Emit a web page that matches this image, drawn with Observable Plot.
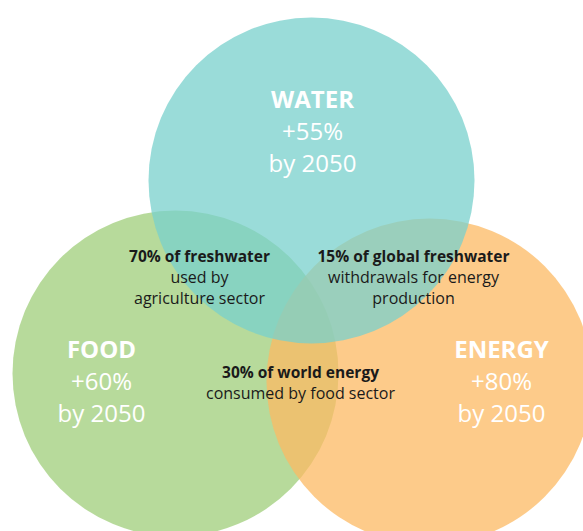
<!DOCTYPE html>
<html>
<head>
<meta charset="utf-8">
<script src="https://cdn.jsdelivr.net/npm/d3@7"></script>
<script src="https://cdn.jsdelivr.net/npm/@observablehq/plot@0.6"></script>
<style>
  html, body { margin: 0; padding: 0; background: #fff; }
  #chart svg { display: block; }
</style>
</head>
<body>
<div id="chart"></div>
<script>
// Categories and their projected demand growth by 2050
const categories = ["FOOD", "ENERGY", "WATER"];
const growth = ["+60%", "+80%", "+55%"];
const yearLabel = "by 2050";

// Overlap facts
const overlapHeads = ["70% of freshwater", "15% of global freshwater", "30% of world energy"];
const overlapBodies = [
  ["used by", "agriculture sector"],
  ["withdrawals for energy", "production"],
  ["consumed by food sector"]
];

// Layout (pixel space)
const W = 583, H = 531;
const centers = {FOOD: [175, 373], ENERGY: [429, 381], WATER: [311, 180]};
const radius = 163;
const colors = {FOOD: "#9fce7a", ENERGY: "#fcba63", WATER: "#78d0cc"};
const labelPos = {FOOD: [101, 357], ENERGY: [501, 357], WATER: [312, 107]};
const overlapPos = [[199, 261], [413, 261], [300, 377]];

const circles = categories.map(c => ({name: c, x: centers[c][0], y: centers[c][1], r: radius}));

const bigText = [];
categories.forEach((c, i) => {
  const [x, y] = labelPos[c];
  bigText.push({x, y, t: c, w: "bold"});
  bigText.push({x, y: y + 32, t: growth[i], w: "normal"});
  bigText.push({x, y: y + 64, t: yearLabel, w: "normal"});
});

const smallText = [];
overlapHeads.forEach((h, i) => {
  const [x, y] = overlapPos[i];
  smallText.push({x, y, t: h, w: "bold"});
  overlapBodies[i].forEach((b, j) => smallText.push({x, y: y + 21 * (j + 1), t: b, w: "normal"}));
});

const chart = Plot.plot({
  width: W,
  height: H,
  margin: 0,
  x: {domain: [0, W], range: [0, W], axis: null},
  y: {domain: [0, H], range: [0, H], axis: null},
  r: {type: "identity"},
  style: {fontFamily: "'Open Sans', sans-serif", background: "#fff"},
  marks: [
    Plot.dot(circles, {x: "x", y: "y", r: "r", fill: d => colors[d.name], fillOpacity: 0.75, stroke: "none"}),
    Plot.text(bigText.filter(d => d.w === "bold"), {x: "x", y: "y", text: "t", fill: "white", fontSize: 24, fontWeight: "bold", lineAnchor: "bottom", textAnchor: "middle"}),
    Plot.text(bigText.filter(d => d.w !== "bold"), {x: "x", y: "y", text: "t", fill: "white", fontSize: 24, lineAnchor: "bottom", textAnchor: "middle"}),
    Plot.text(smallText.filter(d => d.w === "bold"), {x: "x", y: "y", text: "t", fill: "#1a1a1a", fontSize: 15.5, fontWeight: "bold", lineAnchor: "bottom", textAnchor: "middle"}),
    Plot.text(smallText.filter(d => d.w !== "bold"), {x: "x", y: "y", text: "t", fill: "#1a1a1a", fontSize: 16, lineAnchor: "bottom", textAnchor: "middle"})
  ]
});
document.getElementById("chart").appendChild(chart);
</script>
</body>
</html>
